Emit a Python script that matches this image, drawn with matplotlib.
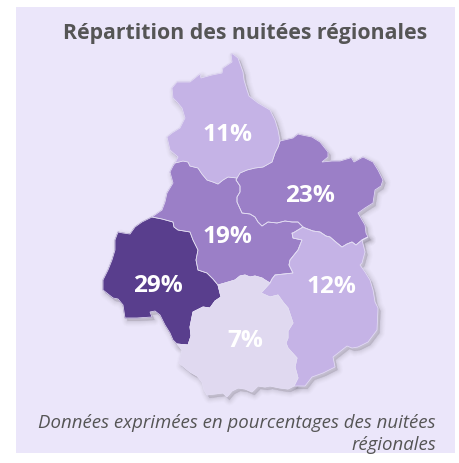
import matplotlib
matplotlib.use("Agg")
import matplotlib.pyplot as plt
from matplotlib.patches import Polygon, Rectangle

# ---- chart data ----
title = "Répartition des nuitées régionales"
note_lines = ["Données exprimées en pourcentages des nuitées", "régionales"]
shares = [11, 23, 19, 29, 12, 7]
share_xy = [(227, 135), (310, 196), (227, 237), (158, 286), (331, 287), (245, 341)]
share_colors = ["#C5B3E6", "#9B7FC7", "#9B7FC7", "#593E8D", "#C5B3E6", "#E0D9F0"]

# ---- shared borders of the map (picture coordinates) ----
e11_outer = [(175,163),(178,157),(170,150),(167,137),(172,133),(180,128),(185,118),(182,108),(177,102),(173,98),(172,88),(177,82),(190,82),(200,74),(201,78),(212,75),(222,73),(223,68),(232,62),(231,54),(233,54),(238,58),(243,72),(244,80),(247,90),(249,96),(258,103),(270,110),(275,120),(278,130),(280,141)]
e11_23 = [(280,141),(278,147),(275,153),(272,162),(263,167),(255,168),(247,170),(240,173),(237,178)]
e11_19 = [(175,163),(183,161),(188,162),(190,166),(198,168),(202,174),(207,180),(213,182),(218,184),(223,180),(228,177),(237,178)]
e23_19 = [(237,178),(236,180),(240,186),(240,192),(237,197),(237,202),(242,213),(250,214),(255,217),(258,222),(262,226),(268,222),(277,223),(285,221),(292,222),(298,222),(303,227)]
e23_outer = [(280,141),(293,138),(298,134),(302,135),(312,137),(320,142),(328,152),(328,157),(322,162),(332,161),(340,161),(350,158),(351,157),(354,162),(363,157),(373,162),(378,170),(383,180),(381,186),(375,190),(373,203),(365,208),(358,213),(362,220),(365,225),(366,233),(368,237)]
e23_12 = [(303,227),(305,228),(313,231),(320,232),(326,236),(330,237),(337,243),(342,247),(347,244),(352,242),(356,245),(362,240),(368,237)]
e19_12 = [(303,227),(293,233),(292,233),(293,238),(302,240),(298,250),(290,260),(289,265),(293,273),(284,274),(275,275),(272,279),(270,283)]
e19_7 = [(218,285),(225,283),(235,280),(240,276),(245,275),(250,277),(255,276),(262,278),(265,280),(270,283)]
e19_29 = [(152,217),(162,219),(173,222),(174,227),(178,230),(190,232),(193,240),(198,250),(196,260),(198,270),(207,273),(213,279),(218,285)]
e19_outer = [(175,163),(173,166),(170,172),(173,183),(167,193),(165,202),(162,210),(152,217)]
e29_7 = [(218,285),(221,297),(215,301),(210,308),(203,307),(193,312),(190,327),(191,336),(188,345),(177,344)]
e29_outer = [(152,217),(142,222),(135,227),(130,234),(123,233),(118,232),(115,240),(115,250),(112,260),(108,270),(103,280),(103,290),(108,294),(113,298),(118,299),(123,305),(125,318),(137,318),(152,317),(150,312),(155,311),(160,315),(165,325),(170,333),(173,340),(177,344)]
e7_outer = [(177,344),(182,350),(179,363),(190,372),(197,376),(202,382),(204,390),(207,395),(215,394),(223,393),(227,397),(232,391),(238,388),(245,389),(252,392),(258,386),(265,387),(270,386),(280,388),(288,389),(294,386)]
e12_7 = [(270,283),(261,293),(270,297),(278,295),(283,302),(288,308),(293,323),(288,331),(288,338),(286,343),(288,348),(297,358),(295,367),(298,378),(294,386)]
e12_outer = [(294,386),(305,386),(312,377),(323,373),(335,367),(333,357),(347,346),(352,348),(358,347),(368,342),(377,330),(378,308),(375,302),(373,290),(370,280),(365,272),(360,265),(362,263),(365,252),(362,240),(368,237)]

def ring(*parts):
    pts = []
    for part, rev in parts:
        pts += list(reversed(part)) if rev else list(part)
    return pts

regions = [
    ring((e11_outer, False), (e11_23, False), (e11_19, True)),
    ring((e23_outer, False), (e23_12, True), (e23_19, True), (e11_23, True)),
    ring((e11_19, False), (e23_19, False), (e19_12, False), (e19_7, True), (e19_29, True), (e19_outer, True)),
    ring((e19_29, False), (e29_7, False), (e29_outer, True)),
    ring((e23_12, False), (e12_outer, True), (e12_7, True), (e19_12, True)),
    ring((e19_7, False), (e12_7, False), (e7_outer, True), (e29_7, True)),
]

BG = "#EBE6FA"
fig = plt.figure(figsize=(4.59, 4.63), dpi=100, facecolor="white")
ax = fig.add_axes([0, 0, 1, 1])
ax.set_xlim(0, 459)
ax.set_ylim(463, 0)
ax.axis("off")
ax.add_patch(Rectangle((16, 7), 439, 446, fc=BG, ec="none", zorder=0))

# soft drop shadow
for lw, a in [(11, .016), (9, .02), (7, .026), (5, .032), (3, .04), (1, .05)]:
    for pts in regions:
        ax.add_patch(Polygon([(x + 2.5, y + 3) for x, y in pts], closed=True, fc="#504a58",
                             ec="#504a58", lw=lw * .72, alpha=a, joinstyle="round", zorder=1))

for pts, col in zip(regions, share_colors):
    ax.add_patch(Polygon(pts, closed=True, fc=col, ec=col, lw=.5, zorder=2))
for pts in regions:
    ax.add_patch(Polygon(pts, closed=True, fc="none", ec="#E3DDF3", lw=.55, zorder=3))

FONT = "Open Sans"
for v, (x, y) in zip(shares, share_xy):
    ax.text(x, y, f"{v}%", color="white", fontsize=17.6, fontweight="bold", family=FONT,
            ha="center", va="center", zorder=4)
ax.text(245, 34, title, color="#555555", fontsize=15.3, fontweight="bold", family=FONT,
        ha="center", va="center")
ax.text(436, 423, note_lines[0], color="#555555", fontsize=13.4, style="italic", family=FONT,
        ha="right", va="center")
ax.text(436, 445, note_lines[1], color="#555555", fontsize=13.4, style="italic", family=FONT,
        ha="right", va="center")

fig.savefig("out.png", dpi=100, facecolor="white")
